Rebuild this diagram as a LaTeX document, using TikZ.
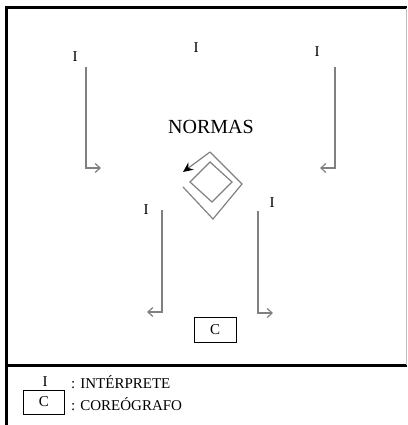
\documentclass[tikz,border=0pt]{standalone}
\usepackage{fontspec}
\setmainfont{Liberation Serif}
\usetikzlibrary{arrows.meta}
\begin{document}
\begin{tikzpicture}[x=1pt,y=-1pt,
  frame/.style={line width=3pt,black},
  lbl/.style={inner sep=0pt,font=\fontsize{15}{15}\selectfont},
  path/.style={draw=black!50,line width=1.4pt,-{Straight Barb[length=5pt,width=9pt,line width=1.2pt]}},
  spiral/.style={draw=black!50,line width=1.2pt},
  cbox/.style={draw,line width=1pt,minimum width=42pt,minimum height=25pt,inner sep=0pt,font=\fontsize{15}{15}\selectfont}]
\useasboundingbox (0,0) rectangle (407,425);
% stage frame
\draw[frame] (407,8) -- (6,8) -- (6,425);
\draw[frame] (6,365) -- (407,365);
\draw[black!25,line width=0.6pt] (406,8) -- (406,365);

% dancers
\node[lbl] (i1) at (75,57) {I};
\node[lbl] (i2) at (196,48) {I};
\node[lbl] (i3) at (317,52) {I};
\node[lbl] (i4) at (146,210) {I};
\node[lbl] (i5) at (272,203) {I};

% title
\node[inner sep=0pt,font=\fontsize{20}{20}\selectfont] (normas) at (211,127) {NORMAS};

% movement paths
\coordinate (a1) at (86,67);   \coordinate (e1) at (101,168);
\coordinate (a3) at (335,67);  \coordinate (e3) at (320,168);
\coordinate (a4) at (162,210); \coordinate (e4) at (147,312);
\coordinate (a5) at (258,211); \coordinate (e5) at (273,313);
\draw[path] (a1) |- (e1);
\draw[path] (a3) |- (e3);
\draw[path] (a4) |- (e4);
\draw[path] (a5) |- (e5);

% rotating figure
\coordinate (s0) at (183,187);
\coordinate (s1) at (213,219);
\coordinate (s2) at (242,184);
\coordinate (s3) at (210,152);
\coordinate (s4) at (183,172);
\draw[spiral] (s0) -- (s1) -- (s2) -- (s3);
\draw[black!50,line width=1.2pt,-{Stealth[length=10pt,width=9pt,black]}] (s3) -- (s4);
\draw[spiral] (210,162) -- (232,182) -- (212,202) -- (190,182) -- cycle;

% choreographer
\node[cbox] (c) at (215,330) {C};

% legend
\node[lbl] (li) at (45,382) {I};
\node[lbl,anchor=west] (lit) at (71,382) {: INTÉRPRETE};
\node[cbox,minimum width=41pt,minimum height=24pt] (lc) at (44,402) {C};
\node[lbl,anchor=west] (lct) at (71,404) {: COREÓGRAFO};
\end{tikzpicture}
\end{document}
